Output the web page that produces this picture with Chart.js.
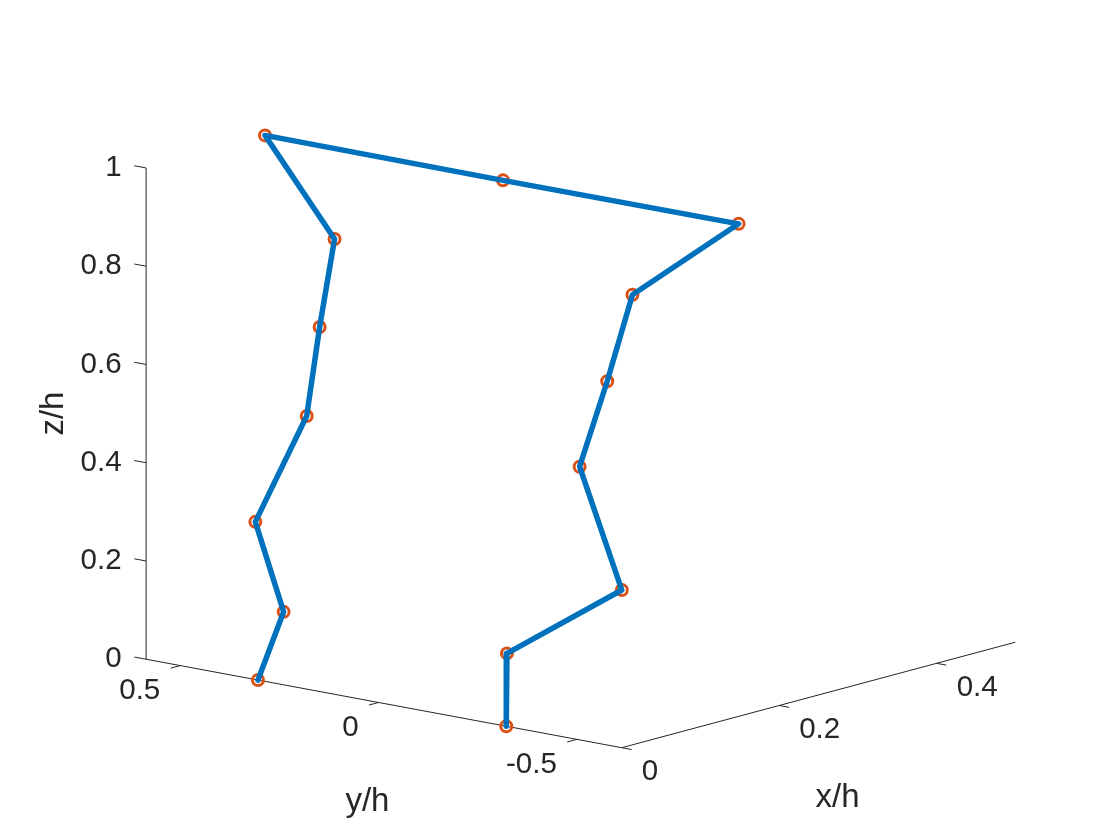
<!DOCTYPE html>
<html>
<head>
<meta charset="utf-8">
<title>Frame deformada 3D</title>
<script src="https://cdn.jsdelivr.net/npm/chart.js@4.4.1/dist/chart.umd.min.js"></script>
<style>
  html, body { margin: 0; padding: 0; background: #fff; overflow: hidden; }
  #wrap { width: 1120px; height: 840px; position: relative; }
</style>
</head>
<body>
<div id="wrap"><canvas id="frameChart"></canvas></div>
<script>
// ————— Datos: nodos del marco, en el orden en que se recorren —————
// columna izquierda (abajo -> arriba), centro de la viga, columna derecha (arriba -> abajo)
const NODE_X = [0, 0.020, 0.044, 0.077, 0.103, 0.129, 0.153, 0.151, 0.152, 0.128, 0.101, 0.077, 0.044, 0.020, 0];
const NODE_Y = [0.304, 0.279, 0.398, 0.334, 0.353, 0.367, 0.590, -0.014, -0.606, -0.386, -0.376, -0.354, -0.526, -0.284, -0.322];
const NODE_Z = [0, 0.134, 0.289, 0.5, 0.667, 0.833, 1, 1, 1, 0.833, 0.667, 0.5, 0.289, 0.134, 0];

// ————— Ejes —————
const X_LIM = [0, 0.5];
const Y_LIM = [-0.613, 0.586];
const Z_LIM = [0, 1];
const X_TICKS = [0, 0.2, 0.4];
const Y_TICKS = [0.5, 0, -0.5];
const Z_TICKS = [0, 0.2, 0.4, 0.6, 0.8, 1];
const X_TICK_LABELS = ['0', '0.2', '0.4'];
const Y_TICK_LABELS = ['0.5', '0', '-0.5'];
const Z_TICK_LABELS = ['0', '0.2', '0.4', '0.6', '0.8', '1'];

// ————— Vista (ortográfica, estilo MATLAB view(az, el)) —————
const VIEW   = { az: -50.2, el: 12.9 };
const BOX    = { x: 615, y: 619, z: 504 };      // largo de cada arista de la caja, px
const CORNER = { x: 621.7, y: 747.7 };          // esquina (xmin, ymin, zmin) en el lienzo
const W = 1120, H = 840;

const COLORS = {
  LINEA: '#0072BD',
  MARCA: '#D95319',
  EJE:   '#262626'
};
const FONT_TICK  = '29.5px "Liberation Sans", Arial, sans-serif';
const FONT_LABEL = '33px "Liberation Sans", Arial, sans-serif';

const rad = d => d * Math.PI / 180;
const cA = Math.cos(rad(VIEW.az)), sA = Math.sin(rad(VIEW.az));
const cE = Math.cos(rad(VIEW.el)), sE = Math.sin(rad(VIEW.el));

function project(x, y, z) {
  const u = (x - X_LIM[0]) / (X_LIM[1] - X_LIM[0]) * BOX.x;
  const v = (y - Y_LIM[0]) / (Y_LIM[1] - Y_LIM[0]) * BOX.y;
  const w = (z - Z_LIM[0]) / (Z_LIM[1] - Z_LIM[0]) * BOX.z;
  const h  = cA * u + sA * v;
  const up = -sE * sA * u + sE * cA * v + cE * w;
  return { x: CORNER.x + h, y: CORNER.y - up };
}

const puntos = NODE_X.map((x, i) => project(x, NODE_Y[i], NODE_Z[i]));

// ————— Plugin: líneas de ejes, ticks y textos —————
const ejes3d = {
  id: 'ejes3d',
  beforeDatasetsDraw(chart) {
    const { ctx, scales } = chart;
    const px = p => [scales.x.getPixelForValue(p.x), scales.y.getPixelForValue(p.y)];
    const seg = (a, b) => {
      const [x1, y1] = px(a), [x2, y2] = px(b);
      ctx.beginPath(); ctx.moveTo(x1, y1); ctx.lineTo(x2, y2); ctx.stroke();
    };
    // tick: de p0 hacia p1, con largo fijo en px
    const tick = (p0, p1, len) => {
      const [x1, y1] = px(p0), [x2, y2] = px(p1);
      const d = Math.hypot(x2 - x1, y2 - y1);
      ctx.beginPath(); ctx.moveTo(x1, y1);
      ctx.lineTo(x1 + (x2 - x1) / d * len, y1 + (y2 - y1) / d * len); ctx.stroke();
    };

    ctx.save();
    ctx.strokeStyle = COLORS.EJE;
    ctx.lineWidth = 1;

    const x0 = X_LIM[0], y0 = Y_LIM[0], y1 = Y_LIM[1], z0 = Z_LIM[0];
    seg(project(x0, y1, z0), project(x0, y1, Z_LIM[1]));   // eje z
    seg(project(x0, y1, z0), project(x0, y0, z0));         // eje y
    seg(project(x0, y0, z0), project(X_LIM[1], y0, z0));   // eje x

    ctx.fillStyle = COLORS.EJE;
    ctx.font = FONT_TICK;

    // z
    ctx.textAlign = 'right'; ctx.textBaseline = 'middle';
    Z_TICKS.forEach((z, i) => {
      const p = project(x0, y1, z);
      tick(p, project(x0, y1 + 1, z), 12);
      const [tx, ty] = px(p);
      ctx.fillText(Z_TICK_LABELS[i], tx - 24.5, ty);
    });
    // y
    ctx.textAlign = 'right';
    Y_TICKS.forEach((y, i) => {
      const p = project(x0, y, z0);
      tick(p, project(x0 - 1, y, z0), 10);
      const [tx, ty] = px(p);
      ctx.fillText(Y_TICK_LABELS[i], tx - 20, ty + 25);
    });
    // x
    ctx.textAlign = 'left';
    X_TICKS.forEach((x, i) => {
      const p = project(x, y0, z0);
      tick(p, project(x, y0 - 1, z0), 10);
      const [tx, ty] = px(p);
      ctx.fillText(X_TICK_LABELS[i], tx + 20, ty + 24.5);
    });

    // títulos de ejes
    ctx.font = FONT_LABEL;
    ctx.textAlign = 'center'; ctx.textBaseline = 'alphabetic';
    const mx = px(project((X_LIM[0] + X_LIM[1]) / 2, y0, z0));
    ctx.fillText('x/h', mx[0] + 19, mx[1] + 112);
    const my = px(project(x0, (Y_LIM[0] + Y_LIM[1]) / 2, z0));
    ctx.fillText('y/h', my[0] - 16.5, my[1] + 108);
    const mz = px(project(x0, y1, (Z_LIM[0] + Z_LIM[1]) / 2));
    ctx.save();
    ctx.translate(mz[0] - 83, mz[1]);
    ctx.rotate(-Math.PI / 2);
    ctx.fillText('z/h', 0, 0);
    ctx.restore();

    ctx.restore();
  }
};

new Chart(document.getElementById('frameChart').getContext('2d'), {
  type: 'scatter',
  data: {
    datasets: [
      {
        label: 'marco',
        data: puntos,
        showLine: true,
        borderColor: COLORS.LINEA,
        borderWidth: 5.5,
        borderJoinStyle: 'round',
        borderCapStyle: 'round',
        tension: 0,
        pointRadius: 0,
        clip: false
      },
      {
        label: 'nodos',
        data: puntos,
        showLine: false,
        pointRadius: 5.5,
        pointBorderWidth: 3,
        pointBorderColor: COLORS.MARCA,
        pointBackgroundColor: 'rgba(0,0,0,0)',
        clip: false
      }
    ]
  },
  options: {
    responsive: true,
    maintainAspectRatio: false,
    devicePixelRatio: 1,
    animation: false,
    events: [],
    layout: { padding: 0, autoPadding: false },
    plugins: { legend: { display: false }, tooltip: { enabled: false } },
    scales: {
      x: { type: 'linear', min: 0, max: W, display: false },
      y: { type: 'linear', min: 0, max: H, reverse: true, display: false }
    }
  },
  plugins: [ejes3d]
});
</script>
</body>
</html>
